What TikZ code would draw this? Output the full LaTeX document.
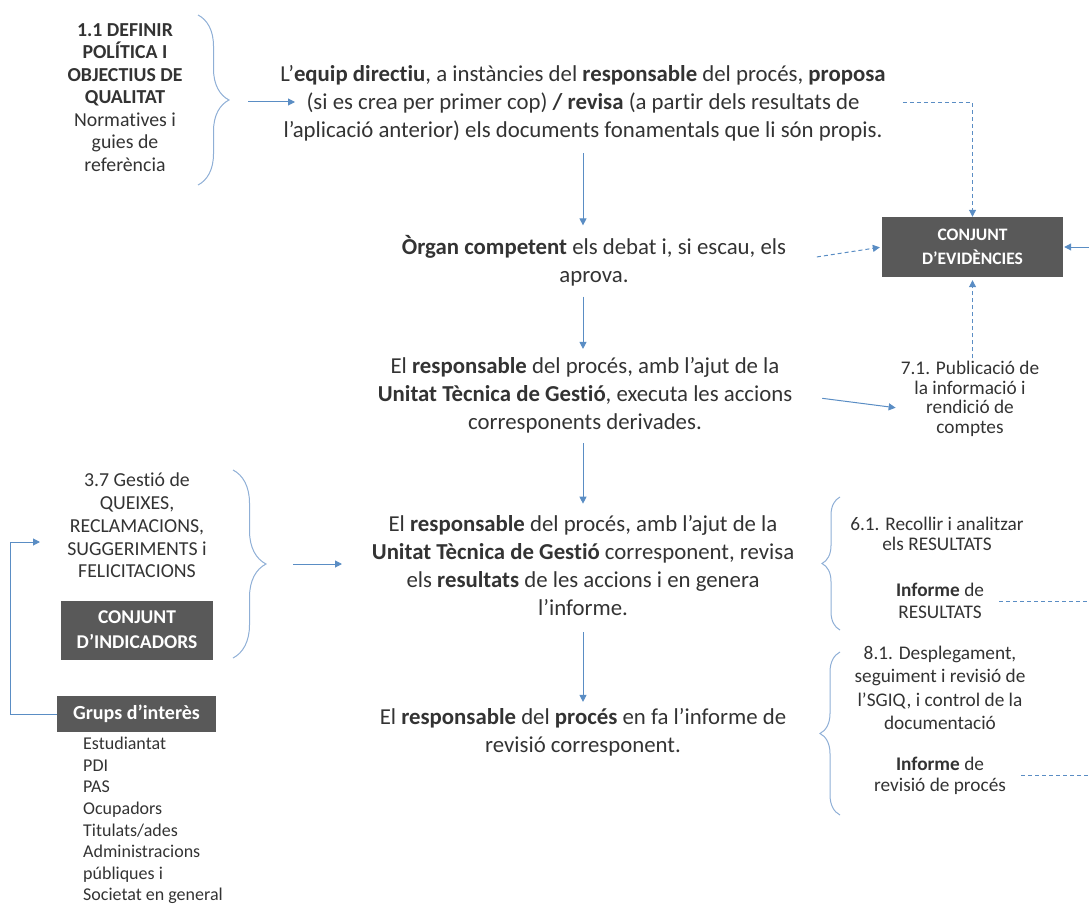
\documentclass[tikz,border=0pt]{standalone}
\usepackage{fontspec}
\setmainfont{Carlito}[Ligatures=NoCommon]
\usetikzlibrary{arrows.meta,decorations.pathreplacing,calc}
\definecolor{txt}{HTML}{333333}
\definecolor{arrc}{HTML}{5A8DC4}
\definecolor{brc}{HTML}{8FAFD6}
\definecolor{boxc}{HTML}{595959}
\begin{document}
\begin{tikzpicture}[x=1pt,y=-1pt,
  every node/.style={text=txt},
  main/.style={align=center, font=\fontsize{22.8}{28}\selectfont, inner sep=4pt},
  small/.style={align=center, font=\fontsize{19.3}{20}\selectfont, inner sep=3pt},
  leftt/.style={align=center, font=\fontsize{19.8}{22.5}\selectfont, inner sep=3pt},
  darkbox/.style={fill=boxc, text=white, font=\bfseries\fontsize{17.5}{24}\selectfont, align=center, inner sep=0pt},
  arr/.style={draw=arrc, line width=1pt, -{Triangle[width=7pt,length=7pt]}},
  dasharr/.style={arr, dash pattern=on 4pt off 3pt},
  dashln/.style={draw=arrc, line width=1pt, dash pattern=on 4pt off 3pt},
  bracestyle/.style={draw=brc, line width=1pt, decorate}
]
\useasboundingbox (0,0) rectangle (1089,904);

% main column
\node[main] (t1) at (583,103) {L’\textbf{equip directiu}, a instàncies del \textbf{responsable} del procés, \textbf{proposa}\\(si es crea per primer cop) \textbf{/ revisa} (a partir dels resultats de\\l’aplicació anterior) els documents fonamentals que li són propis.};
\node[main] (t2) at (594,261) {\textbf{Òrgan competent} els debat i, si escau, els\\aprova.};
\node[main] (t3) at (585,395) {El \textbf{responsable} del procés, amb l’ajut de la\\\textbf{Unitat Tècnica de Gestió}, executa les accions\\corresponents derivades.};
\node[main] (t4) at (583,566) {El \textbf{responsable} del procés, amb l’ajut de la\\\textbf{Unitat Tècnica de Gestió} corresponent, revisa\\els \textbf{resultats} de les accions i en genera\\l’informe.};
\node[main] (t5) at (583,732) {El \textbf{responsable} del \textbf{procés} en fa l’informe de\\revisió corresponent.};

% right column
\node[darkbox, minimum width=181pt, minimum height=60pt] (ev) at (972.5,247) {CONJUNT\\D’EVIDÈNCIES};
\node[small, font=\fontsize{19.3}{19.5}\selectfont] (t7) at (970,399) {7.1. Publicació de\\la informació i\\rendició de\\comptes};
\node[small] (r61) at (937,534) {6.1. Recollir i analitzar\\els RESULTATS};
\node[small, font=\fontsize{19.3}{22}\selectfont] (inf1) at (940,601) {\textbf{Informe} de\\RESULTATS};
\node[small, font=\fontsize{19.3}{23.3}\selectfont] (r81) at (940,688) {8.1. Desplegament,\\seguiment i revisió de\\l’SGIQ, i control de la\\documentació};
\node[small, font=\fontsize{19.3}{21}\selectfont] (inf2) at (940,775.5) {\textbf{Informe} de\\revisió de procés};
\coordinate (R) at (1089,0);

% left column
\node[leftt] (d11) at (125,97.5) {\textbf{1.1 DEFINIR}\\\textbf{POLÍTICA I}\\\textbf{OBJECTIUS DE}\\\textbf{QUALITAT}\\Normatives i\\guies de\\referència};
\node[leftt, font=\fontsize{19.8}{22.75}\selectfont] (q37) at (137,525.5) {3.7 Gestió de\\QUEIXES,\\RECLAMACIONS,\\SUGGERIMENTS i\\FELICITACIONS};
\node[darkbox, font=\bfseries\fontsize{19.5}{25}\selectfont, minimum width=152pt, minimum height=59pt] (ind) at (137,630) {CONJUNT\\D’INDICADORS};
\node[darkbox, font=\bfseries\fontsize{20}{24}\selectfont, minimum width=159pt, minimum height=36pt] (gr) at (136.5,714) {Grups d’interès};
\node[align=left, anchor=north west, inner sep=0pt, font=\fontsize{18}{21.6}\selectfont] (gl) at (83,737) {Estudiantat\\PDI\\PAS\\Ocupadors\\Titulats/ades\\Administracions\\públiques i\\Societat en general};

% braces
\draw[bracestyle, decoration={brace, amplitude=31pt}] (198,15) -- (198,185);
\draw[bracestyle, decoration={brace, amplitude=33pt}] (233,470) -- (233,658);
\draw[bracestyle, decoration={brace, amplitude=18pt}] (840,630) -- (840,497);
\draw[bracestyle, decoration={brace, amplitude=20pt}] (840,815) -- (840,652);

% connectors
\coordinate (a1s) at (248,102);
\coordinate (a1e) at (295,102);
\draw[arr] (a1s) -- (a1e);
\coordinate (a2s) at (293,564);
\coordinate (a2e) at (342,564);
\draw[arr] (a2s) -- (a2e);

\draw[arr, shorten <=8pt, shorten >=6pt] (t1.south) -- (t1.south |- t2.north);
\draw[arr, shorten <=6pt, shorten >=4pt] (t2.south -| t1.south) -- (t1.south |- t3.north);
\draw[arr, shorten <=6pt, shorten >=8pt] (t3.south -| t1.south) -- (t1.south |- t4.north);
\draw[arr, shorten <=12pt, shorten >=2pt] (t4.south -| t1.south) -- (t1.south |- t5.north);

\draw[dasharr, shorten <=13pt] (t1.east) -| (ev.north);
\draw[dasharr, shorten <=27pt, shorten >=2pt] (t2.east) -- (ev.west);
\draw[dasharr, shorten >=3pt] (t7.north -| ev.south) -- (ev.south);
\draw[arr, shorten <=26pt, shorten >=2pt] (t3.east) -- ([yshift=-9pt]t7.west);
\draw[arr, shorten >=1pt] (ev.east -| R) -- (ev.east);
\draw[dashln, shorten <=12pt] (inf1.east) -- (inf1.east -| R);
\draw[dashln, shorten <=12pt] (inf2.east) -- (inf2.east -| R);

\coordinate (fb) at (10,542);
\coordinate (fbe) at (40,542);
\draw[arr] (gr.west) -| (fb) -- (fbe);
\end{tikzpicture}
\end{document}
